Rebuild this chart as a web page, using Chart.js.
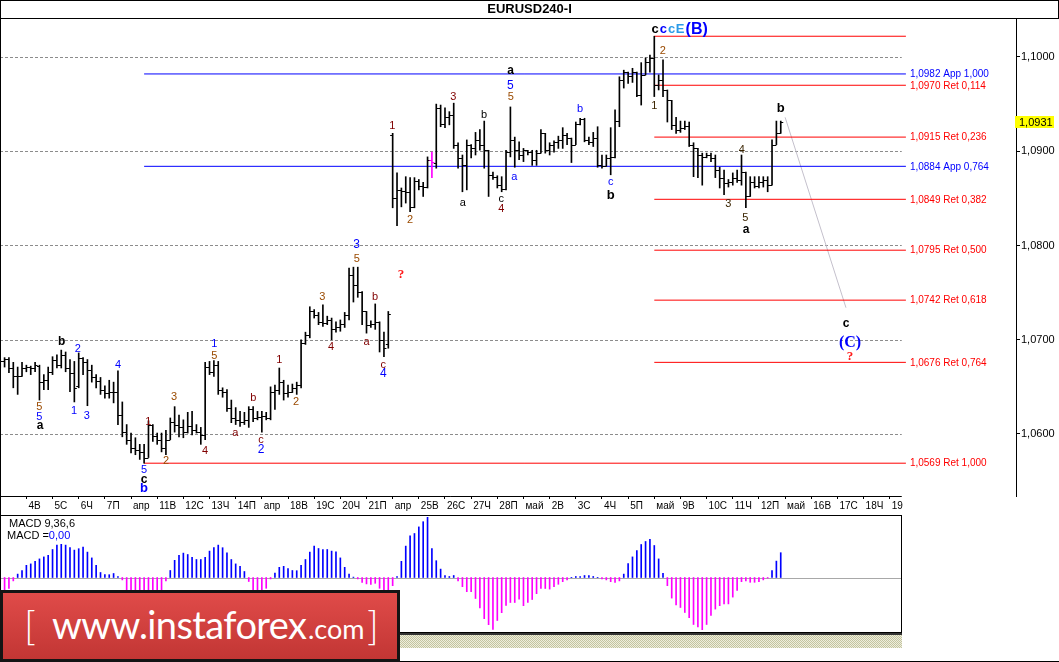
<!DOCTYPE html>
<html>
<head>
<meta charset="utf-8">
<script src="https://cdn.jsdelivr.net/npm/chart.js@4.4.1/dist/chart.umd.min.js"></script>
<style>
  body { margin: 0; background: #fff; }
  #wrap { position: relative; width: 1059px; height: 662px; overflow: hidden; background: #fff; }
  canvas { position: absolute; left: 0; }
  #grafica { top: 0; }
  #macd { top: 515px; }
  .ln { position: absolute; background: #000; }
  #hatch { position: absolute; left: 0; top: 633px; width: 902px; height: 13px;
    border-top: 2px solid #333;
    background: repeating-conic-gradient(#c4c4a0 0% 25%, #eeeedd 0% 50%) 0 0 / 2px 2px; }
  #wm { position: absolute; left: 0; top: 590px; width: 400px; height: 72px; box-sizing: border-box;
    border: 3px solid #141414; background: linear-gradient(#e04b49, #c23634); color: #fff;
    font-family: Lato, "Open Sans", sans-serif; }
  #wm span { position: absolute; line-height: 1; white-space: pre; }
  #wm .br { font-size: 40px; font-weight: 300; top: 12px; }
  #wm .w1 { left: 49px; top: 12px; font-size: 38px; letter-spacing: -0.6px; }
  #wm .w2 { left: 305px; top: 22px; font-size: 27px; }
</style>
</head>
<body>
<div id="wrap">
  <canvas id="grafica" width="1059" height="514"></canvas>
  <canvas id="macd" width="902" height="118"></canvas>
  <div id="hatch"></div>
  <div class="ln" style="left:0;top:0;width:1059px;height:1px"></div>
  <div class="ln" style="left:0;top:18px;width:1059px;height:1px"></div>
  <div class="ln" style="left:1058px;top:0;width:1px;height:19px"></div>
  <div class="ln" style="left:0;top:0;width:1px;height:662px"></div>
  <div class="ln" style="left:0;top:661px;width:1059px;height:1px"></div>
  <div id="wm"><span class="br" style="left:21px">[</span><span class="w1">www.instaforex</span><span class="w2">.com</span><span class="br" style="left:364px">]</span></div>
</div>
<script>
// EURUSD H4, 3 Apr - 12 May, one entry per bar
const opens = [
  1.0672, 1.0677, 1.0680, 1.0670, 1.0662, 1.0661, 1.0670, 1.0671, 1.0670, 1.0672,
  1.0655, 1.0657, 1.0666, 1.0679, 1.0673, 1.0684, 1.0670, 1.0665, 1.0651, 1.0681,
  1.0676, 1.0668, 1.0660, 1.0656, 1.0647, 1.0643, 1.0645, 1.0645, 1.0620, 1.0602,
  1.0594, 1.0585, 1.0583, 1.0581, 1.0575, 1.0610, 1.0598, 1.0594, 1.0585, 1.0594,
  1.0613, 1.0610, 1.0607, 1.0602, 1.0608, 1.0604, 1.0602, 1.0599, 1.0671, 1.0666,
  1.0673, 1.0647, 1.0645, 1.0628, 1.0617, 1.0615, 1.0613, 1.0615, 1.0626, 1.0617,
  1.0618, 1.0619, 1.0617, 1.0645, 1.0647, 1.0655, 1.0644, 1.0645, 1.0649, 1.0652,
  1.0697, 1.0705, 1.0730, 1.0726, 1.0719, 1.0718, 1.0721, 1.0711, 1.0714, 1.0717,
  1.0726, 1.0769, 1.0758, 1.0751, 1.0730, 1.0716, 1.0717, 1.0719, 1.0700, 1.0695,
  1.0917, 1.0850, 1.0859, 1.0858, 1.0857, 1.0841, 1.0868, 1.0863, 1.0862, 1.0891,
  1.0888, 1.0946, 1.0929, 1.0936, 1.0938, 1.0907, 1.0893, 1.0885, 1.0907, 1.0903,
  1.0912, 1.0907, 1.0901, 1.0875, 1.0873, 1.0864, 1.0860, 1.0899, 1.0912, 1.0901,
  1.0896, 1.0901, 1.0899, 1.0891, 1.0898, 1.0919, 1.0901, 1.0907, 1.0910, 1.0912,
  1.0917, 1.0914, 1.0907, 1.0929, 1.0934, 1.0912, 1.0910, 1.0914, 1.0885, 1.0884,
  1.0893, 1.0894, 1.0932, 1.0976, 1.0984, 1.0980, 1.0984, 1.0960, 1.0981, 1.0995,
  1.0999, 1.0970, 1.0976, 1.0965, 1.0954, 1.0928, 1.0923, 1.0925, 1.0927, 1.0907,
  1.0903, 1.0896, 1.0894, 1.0896, 1.0893, 1.0880, 1.0872, 1.0866, 1.0867, 1.0872,
  1.0870, 1.0878, 1.0852, 1.0867, 1.0863, 1.0867, 1.0870, 1.0864, 1.0907, 1.0919
];
const highs = [
  1.0679, 1.0681, 1.0681, 1.0676, 1.0671, 1.0676, 1.0673, 1.0672, 1.0676, 1.0673,
  1.0663, 1.0671, 1.0682, 1.0684, 1.0689, 1.0687, 1.0679, 1.0677, 1.0686, 1.0681,
  1.0679, 1.0673, 1.0663, 1.0660, 1.0651, 1.0657, 1.0655, 1.0667, 1.0634, 1.0610,
  1.0601, 1.0596, 1.0589, 1.0589, 1.0614, 1.0610, 1.0601, 1.0601, 1.0604, 1.0617,
  1.0629, 1.0620, 1.0615, 1.0623, 1.0624, 1.0610, 1.0607, 1.0676, 1.0677, 1.0678,
  1.0677, 1.0649, 1.0647, 1.0636, 1.0628, 1.0624, 1.0623, 1.0629, 1.0629, 1.0624,
  1.0624, 1.0623, 1.0650, 1.0652, 1.0670, 1.0657, 1.0652, 1.0653, 1.0655, 1.0700,
  1.0708, 1.0735, 1.0732, 1.0729, 1.0737, 1.0725, 1.0723, 1.0719, 1.0721, 1.0729,
  1.0776, 1.0777, 1.0777, 1.0751, 1.0730, 1.0720, 1.0738, 1.0719, 1.0708, 1.0730,
  1.0919, 1.0877, 1.0861, 1.0873, 1.0872, 1.0872, 1.0870, 1.0867, 1.0894, 1.0899,
  1.0950, 1.0949, 1.0946, 1.0942, 1.0951, 1.0909, 1.0896, 1.0912, 1.0907, 1.0920,
  1.0923, 1.0932, 1.0901, 1.0878, 1.0874, 1.0873, 1.0901, 1.0947, 1.0915, 1.0910,
  1.0903, 1.0901, 1.0901, 1.0901, 1.0923, 1.0919, 1.0909, 1.0911, 1.0916, 1.0925,
  1.0919, 1.0914, 1.0931, 1.0935, 1.0935, 1.0915, 1.0920, 1.0926, 1.0896, 1.0896,
  1.0925, 1.0944, 1.0979, 1.0986, 1.0984, 1.0988, 1.0984, 1.0994, 1.0999, 1.1002,
  1.1022, 1.0981, 1.0997, 1.0965, 1.0954, 1.0936, 1.0932, 1.0932, 1.0931, 1.0909,
  1.0903, 1.0898, 1.0898, 1.0898, 1.0896, 1.0883, 1.0880, 1.0870, 1.0877, 1.0880,
  1.0896, 1.0878, 1.0873, 1.0873, 1.0873, 1.0873, 1.0873, 1.0912, 1.0932, 1.0932
];
const lows = [
  1.0670, 1.0671, 1.0665, 1.0649, 1.0642, 1.0661, 1.0666, 1.0663, 1.0666, 1.0636,
  1.0647, 1.0647, 1.0663, 1.0670, 1.0670, 1.0666, 1.0645, 1.0634, 1.0649, 1.0663,
  1.0630, 1.0655, 1.0649, 1.0642, 1.0638, 1.0638, 1.0633, 1.0610, 1.0597, 1.0589,
  1.0580, 1.0578, 1.0573, 1.0569, 1.0575, 1.0592, 1.0589, 1.0581, 1.0578, 1.0594,
  1.0602, 1.0597, 1.0596, 1.0601, 1.0599, 1.0601, 1.0589, 1.0594, 1.0663, 1.0661,
  1.0642, 1.0639, 1.0624, 1.0612, 1.0610, 1.0608, 1.0610, 1.0607, 1.0613, 1.0615,
  1.0602, 1.0615, 1.0615, 1.0626, 1.0642, 1.0636, 1.0639, 1.0644, 1.0642, 1.0649,
  1.0695, 1.0702, 1.0723, 1.0716, 1.0714, 1.0716, 1.0700, 1.0708, 1.0709, 1.0713,
  1.0721, 1.0740, 1.0745, 1.0716, 1.0707, 1.0713, 1.0711, 1.0687, 1.0682, 1.0691,
  1.0840, 1.0821, 1.0841, 1.0845, 1.0836, 1.0840, 1.0859, 1.0852, 1.0861, 1.0872,
  1.0882, 1.0926, 1.0925, 1.0928, 1.0903, 1.0882, 1.0857, 1.0859, 1.0893, 1.0896,
  1.0901, 1.0882, 1.0852, 1.0870, 1.0861, 1.0857, 1.0859, 1.0894, 1.0883, 1.0891,
  1.0889, 1.0896, 1.0885, 1.0885, 1.0898, 1.0898, 1.0896, 1.0899, 1.0903, 1.0903,
  1.0907, 1.0888, 1.0907, 1.0928, 1.0910, 1.0907, 1.0905, 1.0883, 1.0882, 1.0884,
  1.0875, 1.0893, 1.0926, 1.0967, 1.0972, 1.0973, 1.0958, 1.0949, 1.0981, 1.0984,
  1.0958, 1.0965, 1.0958, 1.0931, 1.0923, 1.0919, 1.0920, 1.0923, 1.0905, 1.0873,
  1.0872, 1.0864, 1.0893, 1.0889, 1.0872, 1.0861, 1.0854, 1.0862, 1.0864, 1.0867,
  1.0864, 1.0840, 1.0852, 1.0861, 1.0861, 1.0862, 1.0857, 1.0864, 1.0907, 1.0919
];
const closes = [
  1.0677, 1.0680, 1.0670, 1.0662, 1.0661, 1.0670, 1.0671, 1.0670, 1.0673, 1.0655,
  1.0657, 1.0666, 1.0679, 1.0673, 1.0684, 1.0670, 1.0665, 1.0649, 1.0681, 1.0676,
  1.0668, 1.0660, 1.0656, 1.0647, 1.0643, 1.0645, 1.0645, 1.0620, 1.0602, 1.0594,
  1.0585, 1.0583, 1.0581, 1.0575, 1.0610, 1.0598, 1.0594, 1.0585, 1.0594, 1.0613,
  1.0610, 1.0607, 1.0602, 1.0608, 1.0604, 1.0602, 1.0599, 1.0671, 1.0666, 1.0673,
  1.0647, 1.0645, 1.0628, 1.0617, 1.0615, 1.0613, 1.0615, 1.0626, 1.0617, 1.0618,
  1.0619, 1.0617, 1.0645, 1.0647, 1.0655, 1.0644, 1.0645, 1.0649, 1.0652, 1.0697,
  1.0705, 1.0730, 1.0726, 1.0719, 1.0718, 1.0721, 1.0711, 1.0714, 1.0717, 1.0726,
  1.0769, 1.0758, 1.0751, 1.0730, 1.0716, 1.0717, 1.0719, 1.0700, 1.0691, 1.0727,
  1.0850, 1.0859, 1.0858, 1.0857, 1.0841, 1.0868, 1.0863, 1.0862, 1.0891, 1.0889,
  1.0946, 1.0929, 1.0936, 1.0938, 1.0907, 1.0893, 1.0885, 1.0907, 1.0903, 1.0912,
  1.0907, 1.0901, 1.0875, 1.0873, 1.0864, 1.0860, 1.0899, 1.0912, 1.0901, 1.0896,
  1.0901, 1.0899, 1.0891, 1.0898, 1.0919, 1.0901, 1.0907, 1.0910, 1.0912, 1.0917,
  1.0914, 1.0907, 1.0929, 1.0934, 1.0912, 1.0910, 1.0914, 1.0885, 1.0884, 1.0893,
  1.0894, 1.0932, 1.0976, 1.0984, 1.0980, 1.0984, 1.0960, 1.0981, 1.0995, 1.0999,
  1.0970, 1.0976, 1.0965, 1.0954, 1.0928, 1.0923, 1.0925, 1.0927, 1.0907, 1.0903,
  1.0896, 1.0894, 1.0896, 1.0893, 1.0880, 1.0872, 1.0866, 1.0867, 1.0872, 1.0870,
  1.0878, 1.0852, 1.0867, 1.0863, 1.0867, 1.0870, 1.0864, 1.0907, 1.0919, 1.0931
];
// MACD 9,36,6 histogram
const macdHist = [
  -0.0008, -0.0007, -0.00054, -0.00017, 0.00017, 0.00035, 0.00061, 0.00068, 0.00081, 0.00093,
  0.00103, 0.00111, 0.0014, 0.00162, 0.00166, 0.00162, 0.00149, 0.00137, 0.00144, 0.00152,
  0.00127, 0.00098, 0.00061, 0.00025, 0.00014, 0.00014, 0.0002, 0.00005, -0.00012, -0.00068,
  -0.00075, -0.0008, -0.00082, -0.0008, -0.00078, -0.00075, -0.0007, -0.00068, -0.00017, 0.00035,
  0.00086, 0.00111, 0.00122, 0.00115, 0.00101, 0.0009, 0.0009, 0.00101, 0.00132, 0.00149,
  0.00162, 0.00149, 0.00123, 0.0009, 0.00068, 0.00056, 0.0003, -0.0002, -0.0008, -0.00085,
  -0.0008, -0.00054, -0.00007, 0.00022, 0.00051, 0.00056, 0.00044, 0.00035, 0.00034, 0.00061,
  0.0009, 0.00127, 0.00157, 0.00145, 0.0014, 0.0014, 0.00132, 0.00128, 0.00098, 0.00051,
  0.00017, 0.00002, -0.00007, -0.00024, -0.00032, -0.00034, -0.00029, -0.00054, -0.0008, -0.0009,
  -0.00041, 0.00005, 0.00081, 0.00157, 0.00208, 0.0022, 0.00253, 0.00279, 0.00301, 0.00145,
  0.00084, 0.00042, 0.0001, 0.00005, 0.0001, -0.00017, -0.00046, -0.00071, -0.00071, -0.00105,
  -0.00152, -0.00206, -0.00236, -0.0026, -0.00215, -0.00176, -0.00139, -0.00125, -0.00125, -0.00108,
  -0.00141, -0.00124, -0.0011, -0.00081, -0.00055, -0.00055, -0.00058, -0.00046, -0.00034, -0.00021,
  -0.00012, 0.00001, 0.00005, 0.00005, 0.0001, 0.0001, 0.00005, 0.00001, -0.00007, -0.00012,
  -0.00021, -0.00024, -0.00017, 0.00017, 0.00069, 0.00103, 0.00134, 0.00165, 0.0018, 0.00191,
  0.0016, 0.00093, 0.00021, -0.00041, -0.00103, -0.00137, -0.0015, -0.00175, -0.00201, -0.00235,
  -0.00247, -0.00261, -0.00235, -0.00189, -0.00158, -0.00141, -0.00132, -0.00132, -0.00098, -0.00064,
  -0.00021, -0.00017, -0.00024, -0.00024, -0.00021, -0.00012, -0.00003, 0.00034, 0.00082, 0.00124
];
// one label per trading day (6 bars a day), first one is 4 Apr
const dayLabels = ['4В', '5С', '6Ч', '7П', 'апр', '11В', '12С', '13Ч', '14П', 'апр', '18В', '19С', '20Ч', '21П', 'апр',
  '25В', '26С', '27Ч', '28П', 'май', '2В', '3С', '4Ч', '5П', 'май', '9В', '10С', '11Ч', '12П', 'май', '16В', '17С', '18Ч', '19'];
const priceTicks = [1.06, 1.07, 1.08, 1.09, 1.10];

// fibonacci levels
const fibPrices = [1.1022, 1.0982, 1.0970, 1.0915, 1.0884, 1.0849, 1.0795, 1.0742, 1.0676, 1.0569];
const fibTags = ['', 'App 1,000', 'Ret 0,114', 'Ret 0,236', 'App 0,764', 'Ret 0,382', 'Ret 0,500', 'Ret 0,618', 'Ret 0,764', 'Ret 1,000'];
const fibFrom = [150, 33, 150, 150, 33, 150, 150, 150, 150, 33];

// projected path from b to c
const projBars = [180, 193.96];
const projPrices = [1.0936, 1.0734];

// wave marks: text, bar, price, style, colour
const waveLabels = [
  ['5', 8.96, 1.0629, 's', 'brown'], ['5', 8.96, 1.0618, 's', 'blue'], ['a', 9.12, 1.0609, 'sb', 'black'],
  ['b', 14.1, 1.0698, 'sb', 'black'], ['2', 17.77, 1.0690, 's', 'blue'], ['1', 16.92, 1.0624, 's', 'blue'],
  ['3', 19.83, 1.0619, 's', 'blue'], ['4', 27.01, 1.0673, 's', 'blue'], ['1', 33.96, 1.0613, 's', 'maroon'],
  ['5', 32.97, 1.0562, 's', 'blue'], ['c', 32.97, 1.0552, 'sb', 'black'], ['b', 32.97, 1.0542, 'lb', 'blue'],
  ['2', 38.02, 1.0571, 's', 'brown'], ['3', 39.85, 1.0639, 's', 'brown'], ['4', 46.96, 1.0582, 's', 'maroon'],
  ['1', 49.1, 1.0695, 's', 'blue'], ['5', 49.1, 1.0683, 's', 'brown'], ['b', 58.04, 1.0638, 's', 'maroon'],
  ['a', 53.91, 1.0601, 's', 'maroon'], ['c', 59.8, 1.0594, 's', 'maroon'], ['2', 59.8, 1.0583, 'm', 'blue'],
  ['1', 64.0, 1.0678, 's', 'maroon'], ['2', 67.83, 1.0634, 's', 'brown'], ['3', 73.86, 1.0745, 's', 'brown'],
  ['4', 75.86, 1.0692, 's', 'maroon'], ['3', 81.75, 1.0801, 'm', 'blue'], ['5', 81.75, 1.0786, 's', 'brown'],
  ['?', 91.91, 1.0769, 'q', 'red'], ['b', 85.95, 1.0745, 's', 'maroon'], ['a', 84.04, 1.0698, 's', 'maroon'],
  ['c', 87.85, 1.0673, 's', 'maroon'], ['4', 87.85, 1.0664, 'm', 'blue'], ['1', 89.92, 1.0927, 's', 'maroon'],
  ['2', 93.98, 1.0827, 's', 'brown'], ['3', 103.91, 1.0958, 's', 'maroon'], ['a', 106.06, 1.0845, 's', 'black'],
  ['b', 110.95, 1.0939, 's', 'black'], ['c', 114.92, 1.0849, 's', 'black'], ['4', 114.92, 1.0839, 's', 'maroon'],
  ['a', 117.07, 1.0985, 'sb', 'black'], ['5', 117.0, 1.0970, 'm', 'blue'], ['5', 117.07, 1.0958, 's', 'brown'],
  ['a', 117.9, 1.0873, 's', 'blue'], ['b', 132.96, 1.0945, 's', 'blue'], ['c', 140.0, 1.0867, 's', 'blue'],
  ['b', 140.0, 1.0853, 'lb', 'black'], ['1', 150.0, 1.0948, 's', 'dark'], ['2', 151.93, 1.1006, 's', 'brown'],
  ['c', 150.16, 1.1029, 'lb', 'black'], ['c', 152.07, 1.1029, 'lb', 'blue'], ['c', 153.99, 1.1029, 'lb', 'sky'],
  ['E', 155.9, 1.1029, 'lb', 'sky'], ['(B)', 159.73, 1.1029, 'xb', 'blue'], ['b', 178.99, 1.0945, 'lb', 'black'],
  ['4', 170.05, 1.0901, 's', 'dark'], ['3', 166.97, 1.0844, 's', 'dark'], ['5', 170.87, 1.0829, 's', 'dark'],
  ['a', 171.03, 1.0817, 'sb', 'black'], ['c', 193.96, 1.0717, 'sb', 'black'], ['(C)', 194.88, 1.0697, 'sr', 'blue'],
  ['?', 194.88, 1.0682, 'q', 'red']
];

const colores = { black: '#000000', blue: '#0000ff', maroon: '#800000', brown: '#9a4a00', dark: '#3a2400', sky: '#2b9be8', red: '#ff1a1a' };
const fuentes = {
  s: '11px "Liberation Sans"', m: '12px "Liberation Sans"', sb: 'bold 12px "Liberation Sans"',
  lb: 'bold 13px "Liberation Sans"', xb: 'bold 16px "Liberation Sans"',
  sr: 'bold 16px "Liberation Serif"', q: 'bold 13px "Liberation Serif"'
};

// layout of the time axis: 4.36 px per bar
const xMin = -0.05, xMainMax = 232.95, xMacdMax = 206.81;
const gridEnd = 206.75, fibEnd = 207.7;
const markedBar = 99;
const fmt = v => v.toFixed(4).replace('.', ',');

const marco = {
  id: 'marco',
  beforeDatasetsDraw(chart) {
    const { ctx, chartArea, scales: { x, y } } = chart;
    ctx.save();
    ctx.strokeStyle = '#8c8c8c';
    ctx.lineWidth = 1;
    ctx.setLineDash([3, 2]);
    priceTicks.forEach(v => {
      const py = Math.round(y.getPixelForValue(v)) + 0.5;
      ctx.beginPath();
      ctx.moveTo(chartArea.left, py);
      ctx.lineTo(x.getPixelForValue(gridEnd), py);
      ctx.stroke();
    });
    ctx.restore();
  },
  afterDatasetsDraw(chart) {
    const { ctx, chartArea, scales: { x, y } } = chart;
    ctx.save();
    // open / close ticks
    ctx.lineWidth = 1;
    opens.forEach((o, i) => {
      const px = x.getPixelForValue(i);
      ctx.strokeStyle = i === markedBar ? '#ff00ff' : '#000000';
      const yo = Math.round(y.getPixelForValue(o)) + 0.5;
      const yc = Math.round(y.getPixelForValue(closes[i])) + 0.5;
      ctx.beginPath();
      ctx.moveTo(px - 2.5, yo); ctx.lineTo(px, yo);
      ctx.moveTo(px, yc); ctx.lineTo(px + 2.5, yc);
      ctx.stroke();
    });
    // time axis line
    ctx.strokeStyle = '#000';
    ctx.beginPath();
    ctx.moveTo(0, chartArea.bottom + 0.5);
    ctx.lineTo(x.getPixelForValue(gridEnd), chartArea.bottom + 0.5);
    ctx.stroke();
    // fibo tags
    ctx.font = '10px "Liberation Sans"';
    ctx.textBaseline = 'middle';
    ctx.textAlign = 'left';
    fibPrices.forEach((p, i) => {
      if (!fibTags[i]) return;
      ctx.fillStyle = fibTags[i].startsWith('App') ? '#0000ff' : '#ff0000';
      ctx.fillText(fmt(p) + ' ' + fibTags[i], x.getPixelForValue(fibEnd) + 4, y.getPixelForValue(p) + 0.5);
    });
    // wave marks
    ctx.textAlign = 'center';
    waveLabels.forEach(([t, k, p, f, c]) => {
      ctx.font = fuentes[f];
      ctx.fillStyle = colores[c];
      ctx.fillText(t, x.getPixelForValue(k), y.getPixelForValue(p));
    });
    // last price box
    const last = closes[closes.length - 1];
    const py = Math.round(y.getPixelForValue(last));
    ctx.fillStyle = '#ffff00';
    ctx.fillRect(chartArea.right - 1, py - 6, 39, 12);
    ctx.fillStyle = '#000';
    ctx.textAlign = 'left';
    ctx.font = '11px "Liberation Sans"';
    ctx.fillText(fmt(last), chartArea.right + 3, py + 0.5);
    ctx.restore();
  }
};

const datasets = [{
  type: 'bar',
  data: lows.map((l, i) => ({ x: i, y: [l, highs[i]] })),
  backgroundColor: c => c.dataIndex === markedBar ? '#ff00ff' : '#000000',
  barThickness: 1,
  order: 0
}];
fibPrices.forEach((p, i) => datasets.push({
  type: 'line',
  data: [{ x: fibFrom[i], y: p }, { x: fibEnd, y: p }],
  borderColor: fibTags[i].startsWith('App') ? '#0000ff' : '#ff0000',
  borderWidth: 1,
  pointRadius: 0,
  order: 2
}));
datasets.push({
  type: 'line',
  data: projBars.map((b, i) => ({ x: b, y: projPrices[i] })),
  borderColor: '#c4c0cc',
  borderWidth: 1,
  pointRadius: 0,
  order: 3
});

new Chart(document.getElementById('grafica'), {
  type: 'bar',
  data: { datasets },
  options: {
    responsive: false,
    animation: false,
    layout: { autoPadding: false, padding: 0 },
    scales: {
      x: {
        type: 'linear',
        offset: false,
        min: xMin,
        max: xMainMax,
        afterBuildTicks: s => { s.ticks = dayLabels.map((_, d) => ({ value: 6 * (d + 1) })); },
        afterFit: s => { s.height = 18; },
        ticks: {
          autoSkip: false, maxRotation: 0, align: 'start', labelOffset: 2, padding: 1,
          color: '#000', font: { family: 'Liberation Sans', size: 10 },
          callback: (v, i) => dayLabels[i]
        },
        grid: { drawOnChartArea: false, tickLength: 3, color: '#000', offset: false },
        border: { display: false }
      },
      y: {
        position: 'right',
        min: 1.05342,
        max: 1.10403,
        afterBuildTicks: s => { s.ticks = priceTicks.map(v => ({ value: v })); },
        afterFit: s => { s.width = 43; },
        ticks: { padding: 1, color: '#000', font: { family: 'Liberation Sans', size: 11 }, callback: v => fmt(v) },
        grid: { drawOnChartArea: false, tickLength: 4, color: '#000' },
        border: { color: '#000' }
      }
    },
    plugins: {
      legend: { display: false },
      tooltip: { enabled: false },
      title: {
        display: true,
        text: 'EURUSD240-I',
        color: '#000',
        font: { family: 'Liberation Sans', size: 13, weight: 'bold' },
        padding: { top: 2, bottom: 1.4 }
      }
    }
  },
  plugins: [marco]
});

const panel = {
  id: 'panel',
  beforeDatasetsDraw(chart) {
    const { ctx, width, scales: { y } } = chart;
    const py = Math.round(y.getPixelForValue(0)) + 0.5;
    ctx.save();
    ctx.strokeStyle = '#a8a8a8';
    ctx.beginPath();
    ctx.moveTo(0, py); ctx.lineTo(width, py);
    ctx.stroke();
    ctx.restore();
  },
  afterDraw(chart) {
    const { ctx, width, height } = chart;
    ctx.save();
    ctx.strokeStyle = '#000';
    ctx.strokeRect(0.5, 0.5, width - 1, height - 1);
    ctx.font = '11px "Liberation Sans"';
    ctx.fillStyle = '#000';
    ctx.fillText('MACD 9,36,6', 9, 11.5);
    ctx.fillText('MACD =', 7, 24);
    const w = ctx.measureText('MACD =').width;
    ctx.fillStyle = '#0000ff';
    ctx.fillText('0,00', 7 + w, 24);
    ctx.restore();
  }
};

new Chart(document.getElementById('macd'), {
  type: 'bar',
  data: {
    datasets: [{
      data: macdHist.map((v, i) => ({ x: i, y: v })),
      backgroundColor: c => (c.raw && c.raw.y >= 0) ? '#0000ff' : '#ff00ff',
      barThickness: 1
    }]
  },
  options: {
    responsive: false,
    animation: false,
    layout: { autoPadding: false, padding: 0 },
    scales: {
      x: { type: 'linear', offset: false, display: false, min: xMin, max: xMacdMax },
      y: { display: false, min: -0.002775, max: 0.003125 }
    },
    plugins: { legend: { display: false }, tooltip: { enabled: false } }
  },
  plugins: [panel]
});
</script>
</body>
</html>
